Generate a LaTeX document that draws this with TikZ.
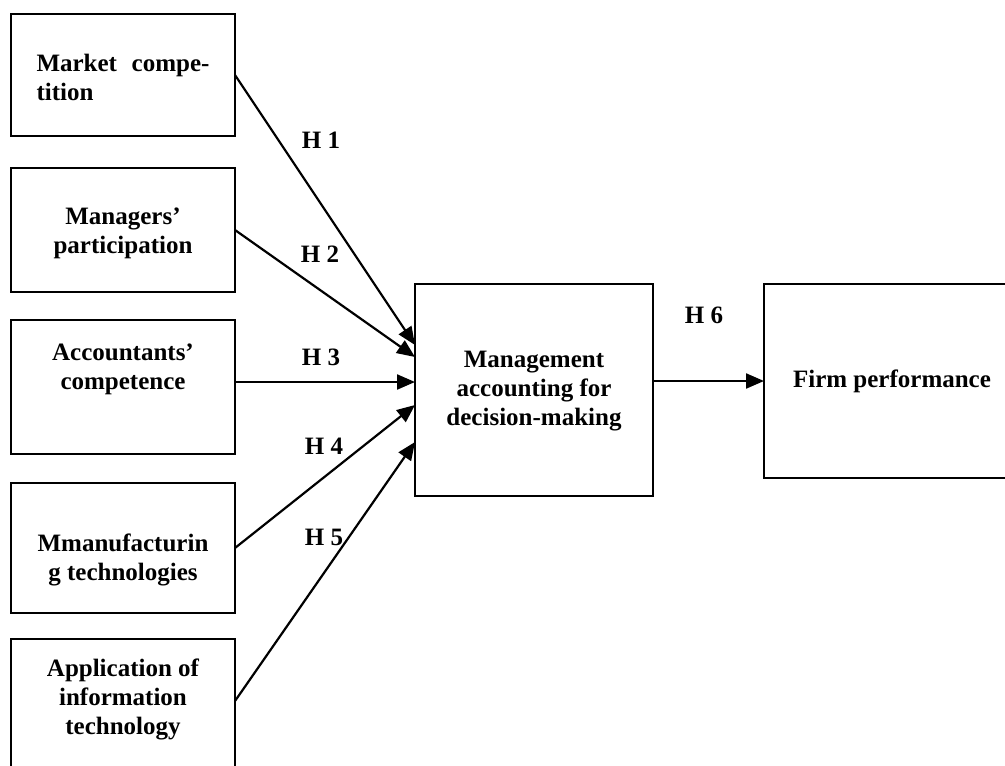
\documentclass[tikz,border=0pt]{standalone}
\usepackage{fontspec}
\setmainfont{Liberation Serif}
\usetikzlibrary{positioning, arrows.meta, calc}
\tikzset{
    factor/.style={draw, line width=2.6pt, minimum width=224pt, inner sep=0pt, outer sep=0pt},
    caption/.style={font=\bfseries\fontsize{25}{29}\selectfont, align=center, inner sep=0pt},
    hyp/.style={font=\bfseries\fontsize{25}{29}\selectfont, inner sep=0pt},
    link/.style={-{Triangle[length=18pt, width=15pt]}, line width=2.2pt},
}

\begin{document}
\begin{tikzpicture}[x=1pt, y=-1pt]
    \useasboundingbox (0,0) rectangle (1005,766);

    % factor boxes on the left
    \node[factor, minimum height=122pt, anchor=north west] (b1) at (11,14) {};
    \node[factor, minimum height=124pt, below=32pt of b1] (b2) {};
    \node[factor, minimum height=134pt, below=28pt of b2] (b3) {};
    \node[factor, minimum height=130pt, below=29pt of b3] (b4) {};
    \node[factor, minimum height=140pt, below=26pt of b4] (b5) {};

    \node[caption, text width=173pt, align=left] (t1) at ($(b1)+(0,2)$) {Market\hfill compe-\\tition};
    \node[caption] (t2) at ($(b2)+(0,3)$) {Managers’\\participation};
    \node[caption] (t3) at ($(b3)+(0,-18)$) {Accountants’\\competence};
    \node[caption] (t4) at ($(b4)+(0,12)$) {Mmanufacturin\\g technologies};
    \node[caption] (t5) at ($(b5)+(0,-10)$) {Application of\\information\\technology};

    % mediator and outcome
    \node[factor, minimum width=238pt, minimum height=212pt, anchor=north west] (mid) at (415,284) {};
    \node[factor, minimum width=256pt, minimum height=194pt, anchor=north west] (firm) at (764,284) {};
    \node[caption] (tmid) at ($(mid)+(0,1)$) {Management\\accounting for\\decision-making};
    \node[caption] (tfirm) at (firm) {Firm performance};

    % hypotheses
    \draw[link] (b1.east) -- ([yshift=45pt]mid.west);
    \draw[link] (b2.east) -- ([yshift=33pt]mid.west);
    \draw[link] ([yshift=5pt]b3.east) -- ([yshift=8pt]mid.west);
    \draw[link] (b4.east) -- ([yshift=-15pt]mid.west);
    \draw[link] ([yshift=8pt]b5.east) -- ([yshift=-52pt]mid.west);
    \draw[link] (firm.west -| mid.east) -- (firm.west);

    \node[hyp] (h1) at (321,140) {H 1};
    \node[hyp] (h2) at (320,254) {H 2};
    \node[hyp] (h3) at (321,357) {H 3};
    \node[hyp] (h4) at (324,446) {H 4};
    \node[hyp] (h5) at (324,537) {H 5};
    \node[hyp] (h6) at (704,315) {H 6};
\end{tikzpicture}
\end{document}
